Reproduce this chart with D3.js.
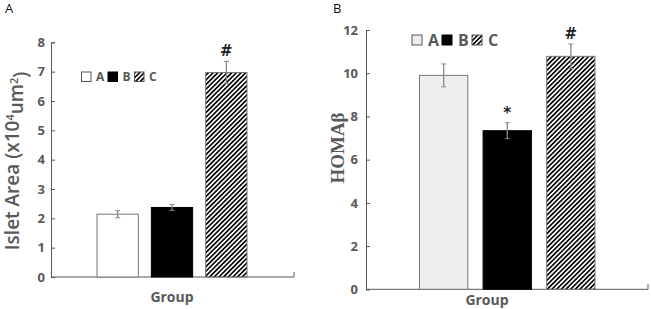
<!DOCTYPE html>
<html>
<head>
<meta charset="utf-8">
<script src="https://cdn.jsdelivr.net/npm/d3@7"></script>
<style>
body { margin: 0; background: #fff; }
svg { display: block; }
text { font-family: "Open Sans", sans-serif; }
</style>
</head>
<body>
<script>
var groups = ["A", "B", "C"],
	areaMeans = [2.14, 2.37, 6.97],
	areaErr = [0.12, 0.1, 0.38],
	homaMeans = [9.9, 7.34, 10.78],
	homaErr = [0.53, 0.37, 0.57],
	areaTicks = [0, 1, 2, 3, 4, 5, 6, 7, 8],
	homaTicks = [0, 2, 4, 6, 8, 10, 12],
	areaMarks = ["", "", "#"],
	homaMarks = ["", "*", "#"];

var grey = "#595959";

var svg = d3.select("body").append("svg")
	.attr("width", 651)
	.attr("height", 309);

// diagonal hatch
var defs = svg.append("defs");
defs.append("pattern")
	.attr("id", "hatch")
	.attr("patternUnits", "userSpaceOnUse")
	.attr("width", 3.3)
	.attr("height", 3.3)
	.attr("patternTransform", "rotate(45)")
	.append("rect")
	.attr("x", 0).attr("y", 0)
	.attr("width", 1.6).attr("height", 3.3)
	.attr("fill", "#000");

function panel(opt) {
	var g = svg.append("g");

	var x = d3.scaleBand()
		.domain(groups)
		.range(opt.barRange)
		.paddingInner(opt.inner)
		.paddingOuter(0);

	var y = d3.scaleLinear()
		.domain([0, d3.max(opt.ticks)])
		.range([opt.y0, opt.yTop]);

	// y axis
	var yAxis = d3.axisLeft(y)
		.tickValues(opt.ticks)
		.tickSize(-4)
		.tickPadding(opt.tickPad);

	var ya = g.append("g")
		.attr("transform", "translate(" + opt.x0 + ",0)")
		.call(yAxis);
	ya.select(".domain").attr("stroke", grey);
	ya.selectAll(".tick line").attr("stroke", grey);
	ya.selectAll(".tick text")
		.attr("fill", grey)
		.style("font-family", "'Open Sans', sans-serif")
		.style("font-weight", "bold")
		.style("font-size", opt.tickFont + "px");

	// x axis line
	g.append("line")
		.attr("x1", opt.x0).attr("x2", opt.x1)
		.attr("y1", opt.y0).attr("y2", opt.y0)
		.attr("stroke", grey);
	g.append("line")
		.attr("x1", opt.x1).attr("x2", opt.x1)
		.attr("y1", opt.y0).attr("y2", opt.y0 - 5)
		.attr("stroke", grey);

	// bars
	g.selectAll("rect.bar")
		.data(opt.means)
		.enter().append("rect")
		.attr("class", "bar")
		.attr("x", function(d, i) { return x(groups[i]); })
		.attr("width", x.bandwidth())
		.attr("y", function(d) { return y(d); })
		.attr("height", function(d) { return opt.y0 - y(d); })
		.attr("fill", function(d, i) { return opt.fills[i]; })
		.attr("stroke", function(d, i) { return i == 1 ? "#000" : "#777"; })
		.attr("stroke-width", 1);

	// error bars
	var eb = g.selectAll("g.err")
		.data(opt.means)
		.enter().append("g")
		.attr("class", "err");
	eb.append("line")
		.attr("x1", function(d, i) { return x(groups[i]) + x.bandwidth() / 2; })
		.attr("x2", function(d, i) { return x(groups[i]) + x.bandwidth() / 2; })
		.attr("y1", function(d, i) { return y(d - opt.err[i]); })
		.attr("y2", function(d, i) { return y(d + opt.err[i]); })
		.attr("stroke", "#888")
		.attr("stroke-width", 1.3);
	[-1, 1].forEach(function(s) {
		eb.append("line")
			.attr("x1", function(d, i) { return x(groups[i]) + x.bandwidth() / 2 - 2.5; })
			.attr("x2", function(d, i) { return x(groups[i]) + x.bandwidth() / 2 + 2.5; })
			.attr("y1", function(d, i) { return y(d + s * opt.err[i]); })
			.attr("y2", function(d, i) { return y(d + s * opt.err[i]); })
			.attr("stroke", "#888")
			.attr("stroke-width", 1);
	});

	// significance marks
	g.selectAll("text.mark")
		.data(opt.means)
		.enter().append("text")
		.attr("class", "mark")
		.attr("x", function(d, i) { return x(groups[i]) + x.bandwidth() / 2; })
		.attr("y", function(d, i) { return y(d + opt.err[i]) - 5; })
		.attr("text-anchor", "middle")
		.attr("fill", "#222")
		.style("font-family", "'DejaVu Sans', sans-serif")
		.style("font-weight", "bold")
		.style("font-size", "15px")
		.text(function(d, i) { return opt.marks[i]; });

	// legend
	var lg = g.append("g")
		.attr("transform", "translate(" + opt.legX + "," + opt.legY + ")");
	var item = lg.selectAll("g")
		.data(groups)
		.enter().append("g")
		.attr("transform", function(d, i) { return "translate(" + (i * opt.legStep) + ",0)"; });
	item.append("rect")
		.attr("x", 0).attr("y", 0)
		.attr("width", opt.legBox).attr("height", opt.legBox)
		.attr("fill", function(d, i) { return opt.fills[i]; })
		.attr("stroke", function(d, i) { return i == 1 ? "#000" : "#555"; });
	item.append("text")
		.attr("x", opt.legBox + opt.legGap)
		.attr("y", opt.legBox / 2)
		.attr("dy", "0.36em")
		.attr("fill", grey)
		.style("font-weight", "bold")
		.style("font-size", opt.legFont + "px")
		.text(function(d) { return d; });

	// x title
	g.append("text")
		.attr("x", opt.groupX)
		.attr("y", opt.groupY)
		.attr("text-anchor", "middle")
		.attr("fill", grey)
		.style("font-weight", "bold")
		.style("font-size", "14px")
		.text("Group");

	// panel letter
	g.append("text")
		.attr("x", opt.letterX)
		.attr("y", 13)
		.attr("fill", "#111")
		.style("font-size", "13px")
		.text(opt.letter);

	return { g: g, y: y };
}

var pa = panel({
	means: areaMeans, err: areaErr, ticks: areaTicks, marks: areaMarks,
	fills: ["#fff", "#000", "url(#hatch)"],
	x0: 51, x1: 294, y0: 277, yTop: 42.3,
	barRange: [97, 247], inner: 0.24,
	tickPad: 6, tickFont: 13,
	legX: 81.5, legY: 72, legStep: 26.5, legBox: 9.5, legGap: 5, legFont: 12,
	groupX: 172, groupY: 302,
	letter: "A", letterX: 5
});

var ylA = pa.g.append("text")
	.attr("transform", "translate(19,161) rotate(-90)")
	.attr("text-anchor", "middle")
	.attr("fill", grey)
	.style("font-weight", "600")
	.style("font-size", "19px");
ylA.append("tspan").text("Islet Area (x10");
ylA.append("tspan").attr("dy", "-0.5em").style("font-size", "11px").text("4");
ylA.append("tspan").attr("dy", "0.5em").text("um");
ylA.append("tspan").attr("dy", "-0.5em").style("font-size", "11px").text("2");
ylA.append("tspan").attr("dy", "0.5em").text(")");

var pb = panel({
	means: homaMeans, err: homaErr, ticks: homaTicks, marks: homaMarks,
	fills: ["#eeeeee", "#000", "url(#hatch)"],
	x0: 366, x1: 648, y0: 289.3, yTop: 30,
	barRange: [419.5, 595], inner: 0.24,
	tickPad: 8, tickFont: 13,
	legX: 412, legY: 35, legStep: 30, legBox: 10, legGap: 6, legFont: 16,
	groupX: 487, groupY: 305,
	letter: "B", letterX: 333
});

pb.g.append("text")
	.attr("transform", "translate(344,148) rotate(-90)")
	.attr("text-anchor", "middle")
	.attr("fill", grey)
	.style("font-family", "'Liberation Serif', 'DejaVu Serif', serif")
	.style("font-weight", "bold")
	.style("font-size", "19px")
	.text("HOMAβ");
</script>
</body>
</html>
